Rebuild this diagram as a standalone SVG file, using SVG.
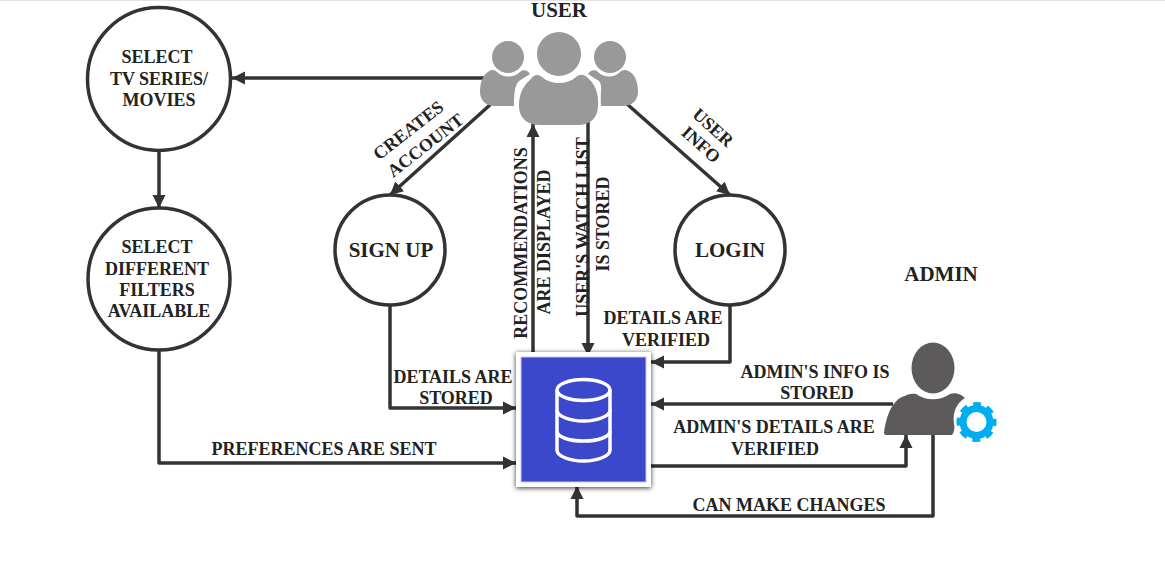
<svg xmlns="http://www.w3.org/2000/svg" width="1165" height="573" viewBox="0 0 1165 573">
<style>
text{font-family:"Liberation Serif","Times New Roman",serif;font-weight:bold;fill:#222;text-anchor:middle}
.t{font-size:18px}
.n{font-size:18px}
.c{fill:#fff;stroke:#333;stroke-width:3.5}
.l{fill:none;stroke:#333;stroke-width:3.5;stroke-linejoin:round}
.u{fill:#999}
.a{fill:#5c5a5a}
</style>
<defs>
<marker id="ah" markerUnits="userSpaceOnUse" markerWidth="14" markerHeight="14" refX="13" refY="7" orient="auto"><path d="M0 0.5L13 7L0 13.5Z" fill="#333"/></marker>
<filter id="sh" x="-10%" y="-10%" width="120%" height="120%"><feDropShadow dx="0" dy="1" stdDeviation="2.500" flood-color="#000" flood-opacity=".8"/></filter>
</defs>
<rect width="1165" height="573" fill="#fff"/>
<rect width="1165" height="1" fill="#e4e4e4"/>
<g id="connectors">
<path class="l" marker-end="url(#ah)" d="M485 78H232"/>
<path class="l" marker-end="url(#ah)" d="M159 151V208"/>
<path class="l" marker-end="url(#ah)" d="M159 350V463H516"/>
<path class="l" marker-end="url(#ah)" d="M491 104L390 195"/>
<path class="l" marker-end="url(#ah)" d="M627 104L730 195"/>
<path class="l" marker-end="url(#ah)" d="M390 306V408H516"/>
<path class="l" marker-end="url(#ah)" d="M533 352V124"/>
<path class="l" marker-end="url(#ah)" d="M588 122V356"/>
<path class="l" marker-end="url(#ah)" d="M730 306V362H651"/>
<path class="l" marker-end="url(#ah)" d="M893 404H651"/>
<path class="l" marker-end="url(#ah)" d="M651 466H906V435"/>
<path class="l" marker-end="url(#ah)" d="M933 434V516H577V486"/>
</g>
<g id="select-tv"><circle class="c" cx="159" cy="79" r="71.500"/><text class="n" x="157" y="63">SELECT</text><text class="n" x="159" y="85">TV SERIES/</text><text class="n" x="159" y="106">MOVIES</text></g>
<g id="select-filters"><circle class="c" cx="159" cy="279" r="71"/><text class="n" x="157" y="253">SELECT</text><text class="n" x="157" y="275">DIFFERENT</text><text class="n" x="157" y="296">FILTERS</text><text class="n" x="159" y="317">AVAILABLE</text></g>
<g id="sign-up"><circle class="c" cx="390" cy="250" r="55"/><text x="391" y="257" font-size="21">SIGN UP</text></g>
<g id="login"><circle class="c" cx="730" cy="250" r="55"/><text x="730" y="257" font-size="21">LOGIN</text></g>
<g id="user">
<text x="559" y="17" font-size="21">USER</text>
<circle class="u" cx="508" cy="57" r="16"/>
<path class="u" d="M488 72C492 69 495 70 497 72C503 78 514 78 520 72C523 69 528 70 530 74L519 81C515 85 514 92 514 106H494C486 106 480 100 480 92C480 82 483 75 488 72Z"/>
<circle class="u" cx="610" cy="57" r="16"/>
<path class="u" d="M630 72C626 69 622 70 620 72C614 78 604 78 598 72C595 69 590 70 588 74L599 81C603 85 600 92 601 106H623C632 106 638 100 638 92C638 82 635 75 630 72Z"/>
<circle class="u" cx="559" cy="54" r="22"/>
<path class="u" d="M530 80C534 74 538 74 542 77C551 85 567 85 576 77C580 74 584 74 588 78C595 84 599 94 598 106C598 118 590 125 578 125H540C527 125 519 118 519 106C519 94 523 86 530 80Z"/>
</g>
<g id="database">
<rect x="516" y="352" width="135" height="135" fill="#fff" filter="url(#sh)"/>
<rect x="521" y="357" width="125" height="125" fill="#3b48cc" stroke="#c5c9f0" stroke-width="1"/>
<g fill="none" stroke="#fff" stroke-width="3.500">
<ellipse cx="583.500" cy="390" rx="26.500" ry="10.500"/>
<path d="M557 390V450C557 456 569 461 583.500 461C598 461 610 456 610 450V390"/>
<path d="M557 410C557 416 569 421 583.500 421C598 421 610 416 610 410"/>
<path d="M557 431C557 437 569 441 583.500 441C598 441 610 437 610 431"/>
</g>
</g>
<g id="admin">
<text x="941" y="281" font-size="21">ADMIN</text>
<ellipse class="a" cx="933" cy="368" rx="21.500" ry="25.500"/>
<path class="a" d="M884 433C886 418 891 402 902 397C908 394 912 393 916 394C926 401 940 401 950 394C955 392 961 394 965 398C958 402 952 411 954 424C955 428 954 433 952 435H886C885 435 884 434 884 433Z"/>
<circle cx="976.500" cy="422" r="13.500" fill="none" stroke="#00aeef" stroke-width="7"/>
<circle cx="976.500" cy="422" r="18" fill="none" stroke="#00aeef" stroke-width="4" stroke-dasharray="8 6.137" stroke-dashoffset="4"/>
</g>
<g id="labels">
<text class="t" transform="translate(412 135) rotate(-38)">CREATES</text>
<text class="t" transform="translate(429 150) rotate(-38)">ACCOUNT</text>
<text class="t" transform="translate(709 132) rotate(42)">USER</text>
<text class="t" transform="translate(697 149) rotate(42)">INFO</text>
<text class="t" transform="translate(527 243) rotate(-90)">RECOMMENDATIONS</text>
<text class="t" transform="translate(550 242) rotate(-90)">ARE DISPLAYED</text>
<text class="t" transform="translate(589 227) rotate(-90)">USER'S WATCH LIST</text>
<text class="t" transform="translate(609 224) rotate(-90)">IS STORED</text>
<text class="t" x="663" y="324">DETAILS ARE</text>
<text class="t" x="666" y="346">VERIFIED</text>
<text class="t" x="453" y="383">DETAILS ARE</text>
<text class="t" x="456" y="404">STORED</text>
<text class="t" x="324" y="455">PREFERENCES ARE SENT</text>
<text class="t" x="815" y="378">ADMIN'S INFO IS</text>
<text class="t" x="817" y="399">STORED</text>
<text class="t" x="774" y="433">ADMIN'S DETAILS ARE</text>
<text class="t" x="775" y="455">VERIFIED</text>
<text class="t" x="789" y="511">CAN MAKE CHANGES</text>
</g>
</svg>
